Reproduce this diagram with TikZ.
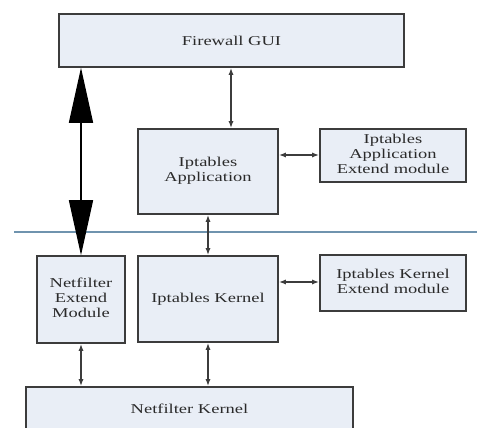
\documentclass[tikz,border=0pt]{standalone}
\usepackage{fontspec}
\setmainfont{Liberation Serif}
\usetikzlibrary{arrows.meta}
\definecolor{boxfill}{HTML}{E9EEF6}
\definecolor{boxline}{HTML}{3C3C3C}
\definecolor{sepline}{HTML}{6F93AE}
\definecolor{txt}{HTML}{2A2A2A}
\newcommand{\wide}[1]{\scalebox{1.37}[1]{#1}}
\tikzset{
  block/.style={draw=boxline, fill=boxfill, line width=1.6pt, inner sep=0pt,
    text=txt, align=center, font=\fontsize{13.5}{15}\selectfont},
  link/.style={draw=boxline, line width=1.4pt,
    {Latex[length=7pt,width=5pt]}-{Latex[length=7pt,width=5pt]}},
  biglink/.style={draw=black, line width=1.5pt,
    {Triangle[length=55pt,width=24pt]}-{Triangle[length=55pt,width=24pt]}},
  separator/.style={draw=sepline, line width=1.1pt}
}
\begin{document}
\begin{tikzpicture}[x=1pt,y=1pt]
  \useasboundingbox (0,0) rectangle (477,428);
  \clip (0,0) rectangle (477,428);
  \fill[white] (0,0) rectangle (477,428);

  % user space blocks
  \node[block, minimum width=345pt, minimum height=53pt] (gui) at (231.5,387.5)
    {\wide{Firewall GUI}};
  \node[block, minimum width=140pt, minimum height=85pt] (app) at (208,256.5)
    {\wide{\begin{tabular}{@{}c@{}}Iptables\\Application\end{tabular}}};
  \node[block, minimum width=146pt, minimum height=53pt] (appext) at (393,272.5)
    {\wide{\begin{tabular}{@{}c@{}}Iptables\\Application\\Extend module\end{tabular}}};

  % user / kernel boundary
  \coordinate (sepL) at (14,196);
  \coordinate (sepR) at (477,196);
  \draw[separator] (sepL) -- (sepR);

  % kernel space blocks
  \node[block, minimum width=88pt, minimum height=87pt] (nem) at (81,128.5)
    {\wide{\begin{tabular}{@{}c@{}}Netfilter\\Extend\\Module\end{tabular}}};
  \node[block, minimum width=140pt, minimum height=86pt] (ik) at (208,129)
    {\wide{Iptables Kernel}};
  \node[block, minimum width=146pt, minimum height=56pt] (ikext) at (393,145)
    {\wide{\begin{tabular}{@{}c@{}}Iptables Kernel\\Extend module\end{tabular}}};
  \node[block, minimum width=327pt, minimum height=44pt] (nk) at (189.5,19)
    {\wide{Netfilter Kernel}};

  % connectors
  \draw[biglink] (gui.south -| nem.north) -- (nem.north);
  \draw[link] (gui.south -| 231,0) -- (app.north -| 231,0);
  \draw[link] (app.east |- 0,273) -- (appext.west |- 0,273);
  \draw[link] (app.south) -- (ik.north);
  \draw[link] (ik.east |- 0,146) -- (ikext.west |- 0,146);
  \draw[link] (nem.south) -- (nem.south |- nk.north);
  \draw[link] (ik.south) -- (ik.south |- nk.north);
\end{tikzpicture}
\end{document}
